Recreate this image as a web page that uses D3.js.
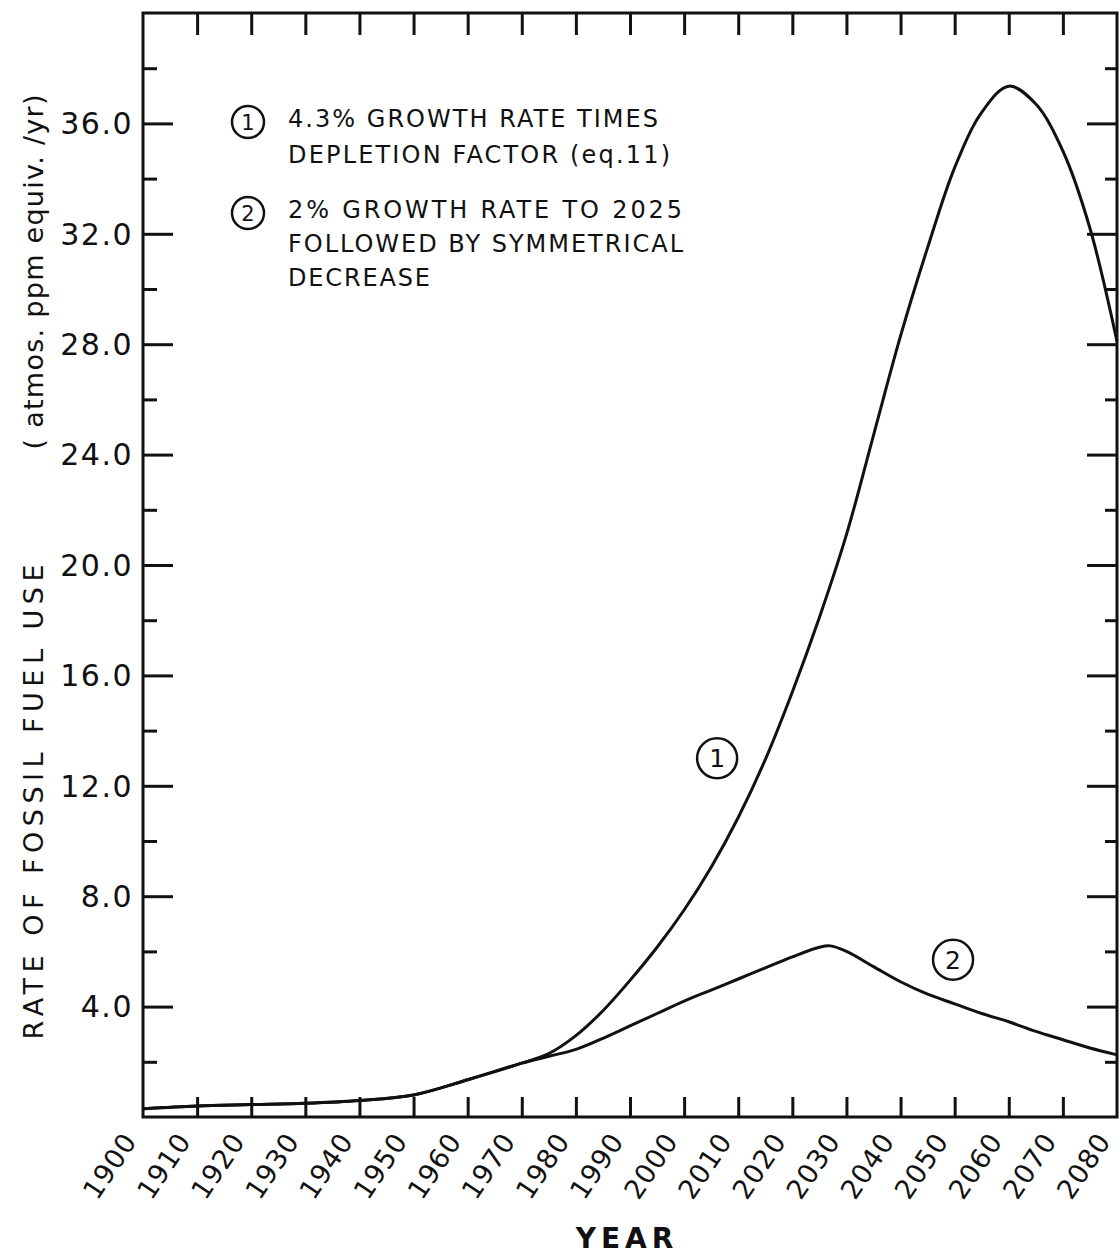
<!DOCTYPE html>
<html>
<head>
<meta charset="utf-8">
<script src="https://cdn.jsdelivr.net/npm/d3@7"></script>
<style>
  html, body { margin: 0; padding: 0; background: #ffffff; }
  svg { display: block; }
  text { font-family: "DejaVu Sans", sans-serif; fill: #111; }
</style>
</head>
<body>
<svg id="chart" width="1120" height="1255"></svg>
<script>
// Curve 1: 4.3% growth rate times depletion factor
const curve1Years  = [1900, 1910, 1920, 1930, 1940, 1950, 1960, 1970, 1975, 1980, 1985, 1990, 1995, 2000, 2005, 2010, 2015, 2020, 2025, 2030, 2035, 2040, 2045, 2050, 2055, 2060, 2065, 2070, 2075, 2080];
const curve1Values = [0.3, 0.4, 0.45, 0.5, 0.6, 0.8, 1.35, 1.95, 2.3, 2.95, 3.85, 4.95, 6.15, 7.5, 9.05, 10.85, 12.95, 15.4, 18.1, 21.1, 24.7, 28.3, 31.5, 34.4, 36.4, 37.35, 36.7, 35.0, 32.2, 28.1];

// Curve 2: 2% growth rate to 2025 followed by symmetrical decrease
const curve2Years  = [1900, 1910, 1920, 1930, 1940, 1950, 1960, 1970, 1975, 1980, 1985, 1990, 1995, 2000, 2005, 2010, 2015, 2020, 2025, 2027, 2030, 2035, 2040, 2045, 2050, 2055, 2060, 2065, 2070, 2075, 2080];
const curve2Values = [0.3, 0.4, 0.45, 0.5, 0.6, 0.8, 1.35, 1.95, 2.2, 2.45, 2.85, 3.3, 3.75, 4.2, 4.6, 5.0, 5.4, 5.8, 6.15, 6.2, 6.0, 5.45, 4.9, 4.45, 4.1, 3.75, 3.45, 3.1, 2.8, 2.5, 2.25];

// Axis ticks and labels
const yearTicks   = d3.range(1900, 2081, 10);
const yearLabels  = yearTicks.map(String);
const valueMajor  = [4, 8, 12, 16, 20, 24, 28, 32, 36];
const valueLabels = ["4.0", "8.0", "12.0", "16.0", "20.0", "24.0", "28.0", "32.0", "36.0"];
const valueMinor  = [2, 6, 10, 14, 18, 22, 26, 30, 34, 38];

// Legend and text
const legendEntries = [
  { id: "1", lines: ["4.3% GROWTH RATE TIMES", "DEPLETION  FACTOR  (eq.11)"] },
  { id: "2", lines: ["2% GROWTH  RATE  TO  2025", "FOLLOWED  BY  SYMMETRICAL", "DECREASE"] }
];
const curveTags = [
  { id: "1", year: 2006.1, value: 13.0 },
  { id: "2", year: 2049.7, value: 5.7 }
];
const yTitleMain = "RATE OF FOSSIL FUEL USE";
const yTitleUnit = "( atmos. ppm equiv. /yr)";
const xTitle = "YEAR";

const svg = d3.select("#chart");
const plotL = 143, plotR = 1117, plotT = 13, plotB = 1117;

const x = d3.scaleLinear().domain([1900, 2080]).range([plotL, plotR]);
const y = d3.scaleLinear().domain([0, 40]).range([plotB, plotT]);

const ink = "#111";

// Frame
svg.append("rect")
  .attr("x", plotL).attr("y", plotT)
  .attr("width", plotR - plotL).attr("height", plotB - plotT)
  .attr("fill", "none").attr("stroke", ink).attr("stroke-width", 3);

const inner = yearTicks.filter(t => t > 1900 && t < 2080);

// Bottom axis: ticks pointing up into the plot
const xBottom = d3.axisBottom(x).tickValues(inner).tickSize(-20).tickFormat("");
svg.append("g").attr("transform", `translate(0,${plotB})`).call(xBottom)
  .call(g => g.select(".domain").remove())
  .call(g => g.selectAll("line").attr("stroke", ink).attr("stroke-width", 3));

// Top axis ticks pointing down
const xTop = d3.axisTop(x).tickValues(inner).tickSize(-22).tickFormat("");
svg.append("g").attr("transform", `translate(0,${plotT})`).call(xTop)
  .call(g => g.select(".domain").remove())
  .call(g => g.selectAll("line").attr("stroke", ink).attr("stroke-width", 3));

// Year labels, slanted
svg.append("g").selectAll("text")
  .data(yearTicks)
  .join("text")
  .attr("transform", d => `translate(${x(d) - 5},${plotB + 24}) rotate(-56)`)
  .attr("text-anchor", "end")
  .attr("font-size", 27)
  .attr("letter-spacing", 1)
  .text((d, i) => yearLabels[i]);

// Left and right value axes
function valueAxis(gen, xpos, majorLen, minorLen) {
  const gMaj = svg.append("g").attr("transform", `translate(${xpos},0)`)
    .call(gen(y).tickValues(valueMajor).tickSize(-majorLen).tickFormat(""));
  const gMin = svg.append("g").attr("transform", `translate(${xpos},0)`)
    .call(gen(y).tickValues(valueMinor).tickSize(-minorLen).tickFormat(""));
  [gMaj, gMin].forEach(g => {
    g.select(".domain").remove();
    g.selectAll("line").attr("stroke", ink).attr("stroke-width", 3);
  });
}
valueAxis(d3.axisLeft, plotL, 30, 14);
valueAxis(d3.axisRight, plotR, 30, 12);

svg.append("g").selectAll("text")
  .data(valueMajor)
  .join("text")
  .attr("x", plotL - 10)
  .attr("y", d => y(d))
  .attr("dy", "0.36em")
  .attr("text-anchor", "end")
  .attr("font-size", 30)
  .attr("letter-spacing", 1.5)
  .text((d, i) => valueLabels[i]);

// Axis titles
svg.append("text")
  .attr("transform", "translate(43,802) rotate(-90)")
  .attr("text-anchor", "middle")
  .attr("font-size", 27)
  .attr("textLength", 475)
  .attr("lengthAdjust", "spacing")
  .text(yTitleMain);
svg.append("text")
  .attr("transform", "translate(43,272) rotate(-90)")
  .attr("text-anchor", "middle")
  .attr("font-size", 27)
  .attr("textLength", 355)
  .attr("lengthAdjust", "spacing")
  .text(yTitleUnit);

svg.append("text")
  .attr("x", 627).attr("y", 1248)
  .attr("text-anchor", "middle")
  .attr("font-size", 28)
  .attr("font-weight", "bold")
  .attr("letter-spacing", 5)
  .text(xTitle);

// Curves
const line = d3.line()
  .x(d => x(d[0]))
  .y(d => y(d[1]))
  .curve(d3.curveCatmullRom.alpha(0.5));

const series = [
  d3.zip(curve1Years, curve1Values),
  d3.zip(curve2Years, curve2Values)
];
svg.append("g").selectAll("path")
  .data(series)
  .join("path")
  .attr("d", line)
  .attr("fill", "none")
  .attr("stroke", ink)
  .attr("stroke-width", 3)
  .attr("stroke-linejoin", "round");

// Circled numbers next to the curves
const tags = svg.append("g").selectAll("g")
  .data(curveTags)
  .join("g")
  .attr("transform", d => `translate(${x(d.year)},${y(d.value)})`);
tags.append("circle").attr("r", 20)
  .attr("fill", "none").attr("stroke", ink).attr("stroke-width", 2.5);
tags.append("text")
  .attr("text-anchor", "middle").attr("dy", "0.36em")
  .attr("font-size", 25)
  .text(d => d.id);

// Legend
const legend = svg.append("g");
const lineWidths = [[370, 382], [394, 395, 142]];
let ly = 127;
legendEntries.forEach((entry, ei) => {
  const cy = ly - 5;
  legend.append("circle").attr("cx", 248).attr("cy", cy).attr("r", 16)
    .attr("fill", "none").attr("stroke", ink).attr("stroke-width", 2.5);
  legend.append("text").attr("x", 248).attr("y", cy).attr("dy", "0.36em")
    .attr("text-anchor", "middle").attr("font-size", 21).text(entry.id);
  entry.lines.forEach((t, li) => {
    legend.append("text")
      .attr("x", 288).attr("y", ly + li * (ei === 0 ? 36 : 34))
      .attr("font-size", 24)
      .attr("textLength", lineWidths[ei][li])
      .attr("lengthAdjust", "spacing")
      .text(t);
  });
  ly += 91;
});
</script>
</body>
</html>
